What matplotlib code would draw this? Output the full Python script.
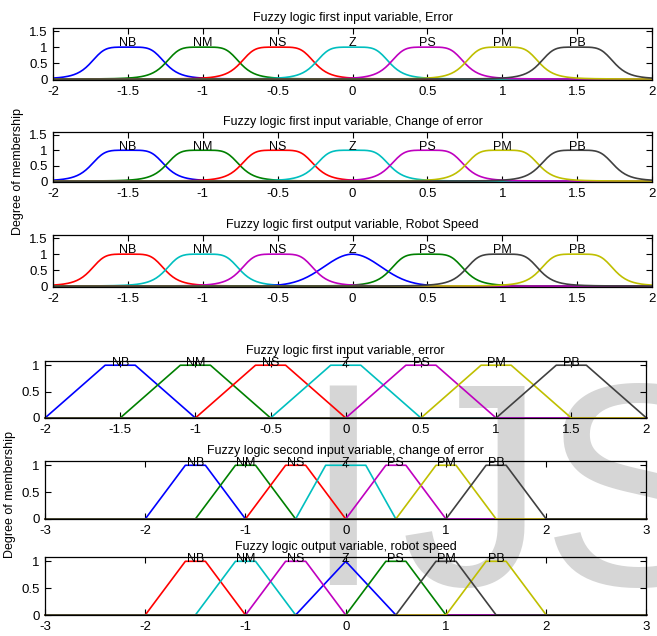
import numpy as np
import matplotlib
matplotlib.use('Agg')
import matplotlib.pyplot as plt

plt.rcParams['font.family'] = ['Liberation Sans', 'DejaVu Sans']

# membership function names
mf_names = ['NB', 'NM', 'NS', 'Z', 'PS', 'PM', 'PB']

# top figure: bell shaped membership functions (centres, half width, slope)
bell_centres = [-1.5, -1.0, -0.5, 0.0, 0.5, 1.0, 1.5]
bell_width = 0.25
bell_slope = 2.5
speed_z_sigma = 0.19   # Z of the robot speed output is a gaussian

# bottom figure: trapezoid params [a, b, c, d]
err_trap = [[-2, -1.6, -1.4, -1], [-1.5, -1.1, -0.9, -0.5], [-1, -0.6, -0.4, 0],
            [-0.5, -0.1, 0.1, 0.5], [0, 0.4, 0.6, 1], [0.5, 0.9, 1.1, 1.5], [1, 1.4, 1.6, 2]]
derr_trap = [[-2, -1.6, -1.4, -1], [-1.5, -1.1, -0.9, -0.5], [-1, -0.6, -0.4, 0],
             [-0.5, -0.2, 0.2, 0.5], [0, 0.4, 0.6, 1], [0.5, 0.9, 1.1, 1.5], [1, 1.4, 1.6, 2]]
speed_trap = [[-2, -1.6, -1.4, -1], [-1.5, -1.1, -0.9, -0.5], [-1, -0.6, -0.4, 0],
              [-0.5, 0, 0, 0.5], [0, 0.4, 0.6, 1], [0.5, 0.9, 1.1, 1.5], [1, 1.4, 1.6, 2]]

# matlab colours
B = '#0000ff'; G = '#008000'; R = '#ff0000'; C = '#00bfbf'
M = '#bf00bf'; Y = '#bfbf00'; K = '#404040'
in_colors = [B, G, R, C, M, Y, K]
out_colors = [R, C, M, B, G, K, Y]
out_order = [0, 1, 3, 4, 2, 6, 5]   # drawing order of the output mfs


def gbell(x, a, b, c):
    return 1.0 / (1.0 + np.abs((x - c) / a) ** (2 * b))


def trap(x, p):
    a, b, c, d = p
    up = (x - a) / (b - a) if b > a else np.ones_like(x)
    down = (d - x) / (d - c) if d > c else np.ones_like(x)
    return np.clip(np.minimum(np.minimum(up, down), 1), 0, 1)


def style(ax, xlim, xticks, ylim, yticks, xfmt):
    ax.set_xlim(xlim)
    ax.set_ylim(ylim)
    ax.set_xticks(xticks)
    ax.set_xticklabels([xfmt(v) for v in xticks])
    ax.set_yticks(yticks)
    ax.set_yticklabels(['%g' % v for v in yticks])
    ax.tick_params(direction='in', length=4, width=0.8, top=True, right=True,
                   labelsize=9.5, pad=4, colors='black')
    for s in ax.spines.values():
        s.set_linewidth(0.9)
    ax.set_facecolor('none')


fig = plt.figure(figsize=(6.57, 6.36), dpi=100)

# watermark
wm = dict(fontsize=209, color='#d6d6d6', zorder=-5, va='baseline', ha='center',
          family='Liberation Sans')
fig.text(343 / 657, 0.080, 'I', **wm)
fig.text(473 / 657, 0.080, 'J', **wm)
fig.text(638 / 657, 0.080, 'S', **wm)

# ---------- top figure ----------
x = np.linspace(-2, 2, 401)
top_titles = ['Fuzzy logic first input variable, Error',
              'Fuzzy logic first input variable, Change of error',
              'Fuzzy logic first output variable, Robot Speed']
top_pos = [(0.0807, 0.8742, 0.9117, 0.0818),
           (0.0807, 0.7138, 0.9117, 0.0791),
           (0.0807, 0.5487, 0.9117, 0.0818)]
for k in range(3):
    ax = fig.add_axes(top_pos[k])
    if k < 2:
        colors = in_colors
        order = range(7)
    else:
        colors = out_colors
        order = out_order
    for i in order:
        if k == 2 and mf_names[i] == 'Z':
            y = np.exp(-(x - bell_centres[i]) ** 2 / (2 * speed_z_sigma ** 2))
        else:
            y = gbell(x, bell_width, bell_slope, bell_centres[i])
        ax.plot(x, y, color=colors[i], lw=1.2)
        ax.text(bell_centres[i], 1.12, mf_names[i], ha='center', va='center', fontsize=9)
    style(ax, (-2, 2), [-2, -1.5, -1, -0.5, 0, 0.5, 1, 1.5, 2], (-0.03, 1.6),
          [0, 0.5, 1, 1.5], lambda v: '%g' % v)
    ax.set_title(top_titles[k], fontsize=9, pad=5)

fig.text(18 / 657, 1 - 172 / 636, 'Degree of membership', rotation=90,
         ha='center', va='center', fontsize=9)

# ---------- bottom figure ----------
bot_titles = ['Fuzzy logic first input variable, error',
              'Fuzzy logic second input variable, change of error',
              'Fuzzy logic output variable, robot speed']
bot_pos = [(0.0685, 0.3428, 0.9155, 0.0896),
           (0.0685, 0.1840, 0.9155, 0.0912),
           (0.0685, 0.0330, 0.9155, 0.0912)]
bot_params = [err_trap, derr_trap, speed_trap]
for k in range(3):
    ax = fig.add_axes(bot_pos[k])
    if k == 0:
        xb = np.linspace(-2, 2, 401)
        xlim = (-2, 2)
        xt = [-2, -1.5, -1, -0.5, 0, 0.5, 1, 1.5, 2]
    else:
        xb = np.linspace(-3, 3, 601)
        xlim = (-3, 3)
        xt = [-3, -2, -1, 0, 1, 2, 3]
    if k < 2:
        colors = in_colors
        order = range(7)
    else:
        colors = out_colors
        order = out_order
    for i in order:
        p = bot_params[k][i]
        ax.plot(xb, trap(xb, p), color=colors[i], lw=1.2, clip_on=False)
        ax.text((p[1] + p[2]) / 2, 1.04, mf_names[i], ha='center', va='center', fontsize=9)
    style(ax, xlim, xt, (0, 1.08), [0, 0.5, 1], lambda v: '%g' % v)
    ax.set_title(bot_titles[k], fontsize=9, pad=5)

fig.text(10 / 657, 1 - 495 / 636, 'Degree of membership', rotation=90,
         ha='center', va='center', fontsize=9)

fig.savefig('out.png', dpi=100)
